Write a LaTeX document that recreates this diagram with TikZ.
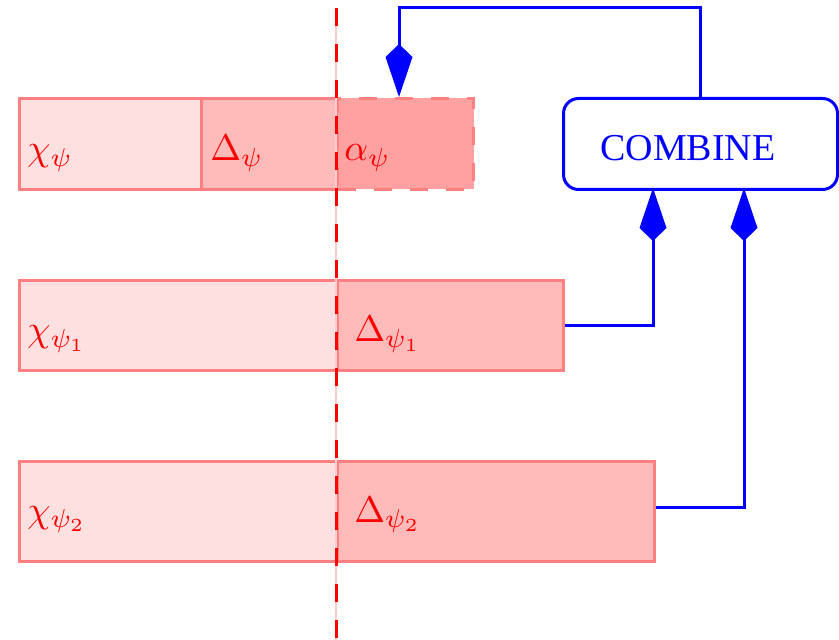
\documentclass[tikz,border=0pt]{standalone}
\usepackage{graphicx}
\usepackage{fontspec}
\newfontfamily\combfont{Liberation Serif}
\usetikzlibrary{arrows.meta}
\newcommand{\lbl}[1]{\scalebox{1.85}{$#1$}}
\tikzset{
  box/.style={draw=red!50, line width=1.5pt, inner sep=0pt, anchor=north west},
  chib/.style={box, fill=red!12},
  delb/.style={box, fill=red!27},
  alpb/.style={box, fill=red!37, dash pattern=on 9pt off 9pt},
  lab/.style={text=red, anchor=base west, inner sep=0pt},
  combbox/.style={draw=blue, line width=1.5pt, rounded corners=7.5pt, inner sep=0pt, anchor=north west, minimum width=137pt, minimum height=45.5pt},
  conn/.style={draw=blue, line width=1.5pt, -{Kite[length=26.5pt,width=13.5pt,inset=6.5pt]}}
}
\begin{document}
\begin{tikzpicture}[x=0.5pt,y=-0.5pt]
\useasboundingbox (0,0) rectangle (839,640);
% row 1
\node[chib, minimum width=91pt, minimum height=45.5pt] (chi) at (18,97) {};
\node[delb, minimum width=68pt, minimum height=45.5pt] (del) at (200,97) {};
\node[alpb, minimum width=68pt, minimum height=45.5pt] (alp) at (336,97) {};
% row 2
\node[chib, minimum width=159pt, minimum height=45pt] (chi1) at (18,279) {};
\node[delb, minimum width=113pt, minimum height=45pt] (del1) at (336,279) {};
% row 3
\node[chib, minimum width=159pt, minimum height=50pt] (chi2) at (18,460) {};
\node[delb, minimum width=158.5pt, minimum height=50pt] (del2) at (336,460) {};
% labels
\node[lab] (lchi) at (27,161) {\lbl{\chi_\psi}};
\node[lab] (ldel) at (210,161) {\lbl{\Delta_\psi}};
\node[lab] (lalp) at (344,161) {\lbl{\alpha_\psi}};
\node[lab] (lchi1) at (27,342) {\lbl{\chi_{\psi_1}}};
\node[lab] (ldel1) at (354,342) {\lbl{\Delta_{\psi_1}}};
\node[lab] (lchi2) at (27,522) {\lbl{\chi_{\psi_2}}};
\node[lab] (ldel2) at (354,522) {\lbl{\Delta_{\psi_2}}};
% combine
\node[combbox] (comb) at (562,97) {};
\node[anchor=base west, inner sep=0pt, text=blue, font={\combfont\fontsize{19}{23}\selectfont}] (ctext) at (600,161) {COMBINE};
% connectors
\coordinate (topl) at (399,8);
\coordinate (in1) at (653,188);
\coordinate (in2) at (744,188);
\draw[conn] (comb.north) |- (topl) -- (topl |- alp.north);
\draw[conn] (del1.east) -| (in1);
\draw[conn] ([yshift=2pt]del2.east) -| (in2);
% dashed vertical line
\coordinate (vt) at (336,8);
\coordinate (vb) at (336,640);
\draw[red!20, line width=1pt] (vt) -- (vb);
\draw[red, line width=1.5pt, dash pattern=on 9pt off 9pt] (vt) -- (vb);
\end{tikzpicture}
\end{document}
